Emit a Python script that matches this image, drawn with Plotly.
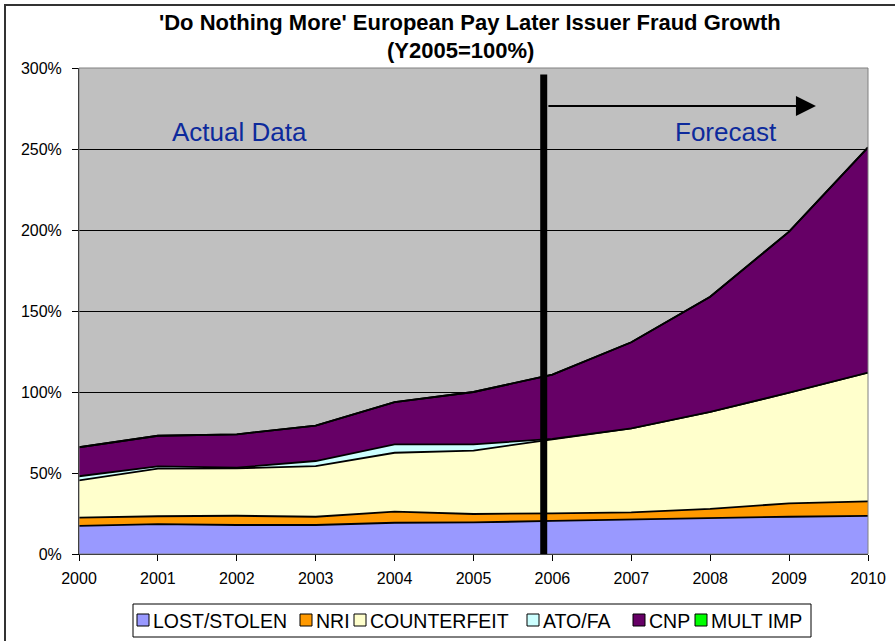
import plotly.graph_objects as go

years = [2000, 2001, 2002, 2003, 2004, 2005, 2006, 2007, 2008, 2009, 2010]
series_names = ["LOST/STOLEN", "NRI", "COUNTERFEIT", "ATO/FA", "CNP", "MULT IMP"]
lost_stolen = [0.173, 0.185, 0.179, 0.179, 0.193, 0.195, 0.204, 0.214, 0.222, 0.230, 0.235]
nri = [0.051, 0.048, 0.057, 0.051, 0.068, 0.052, 0.047, 0.043, 0.056, 0.083, 0.090]
counterfeit = [0.231, 0.294, 0.293, 0.313, 0.364, 0.391, 0.457, 0.519, 0.600, 0.683, 0.795]
ato_fa = [0.025, 0.014, 0.004, 0.031, 0.052, 0.039, 0.003, 0.0, 0.0, 0.0, 0.0]
cnp = [0.179, 0.189, 0.206, 0.218, 0.261, 0.323, 0.396, 0.531, 0.710, 0.994, 1.390]
mult_imp = [0.0] * 11
series_values = [lost_stolen, nri, counterfeit, ato_fa, cnp, mult_imp]
series_colors = ["#9999FF", "#FF9900", "#FFFFCC", "#CCFFFF", "#660066", "#00FF00"]

divider_year = 2005.89
arrow_start, arrow_end, arrow_level = 2005.93, 2009.34, 2.765
divider_top = 2.96
label_actual = ("Actual Data", 2002.04, 2.605)
label_forecast = ("Forecast", 2008.2, 2.605)

# legend layout (pixel positions of each swatch's left edge)
legend_swatch_px = [137, 300, 354, 527, 633, 695]
legend_box_px = (133, 811, 604, 637)

FONT = "Arial, Liberation Sans, sans-serif"

fig = go.Figure()
for name, vals, col in zip(series_names, series_values, series_colors):
    fig.add_trace(go.Scatter(
        x=years, y=vals, name=name, stackgroup="one", mode="lines",
        line=dict(color="black", width=1.8), fillcolor=col, showlegend=False,
    ))

L, T, W, H = 79, 68, 789, 486

def px_x(p):
    return (p - L) / W

def px_y(p):
    return (T + H - p) / H

shapes = [
    dict(type="rect", xref="paper", yref="paper", x0=0, x1=1, y0=0, y1=1,
         line=dict(color="#808080", width=1), layer="above"),
    dict(type="line", xref="x", yref="y", x0=divider_year, x1=divider_year,
         y0=0, y1=divider_top, line=dict(color="black", width=7), layer="above"),
    dict(type="rect", xref="paper", yref="paper", x0=px_x(5), x1=px_x(1000),
         y0=px_y(800), y1=px_y(5), line=dict(color="#333333", width=2), layer="below"),
    dict(type="rect", xref="paper", yref="paper",
         x0=px_x(legend_box_px[0]), x1=px_x(legend_box_px[1]),
         y0=px_y(legend_box_px[3]), y1=px_y(legend_box_px[2]),
         line=dict(color="black", width=1), fillcolor="white", layer="above"),
]
annotations = [
    dict(text="<b>'Do Nothing More' European Pay Later Issuer Fraud Growth</b>",
         xref="paper", yref="paper", x=px_x(470), y=px_y(22), showarrow=False,
         font=dict(size=22, family=FONT), xanchor="center", yanchor="middle"),
    dict(text="<b>(Y2005=100%)</b>",
         xref="paper", yref="paper", x=px_x(460), y=px_y(50), showarrow=False,
         font=dict(size=22, family=FONT), xanchor="center", yanchor="middle"),
    dict(text=label_actual[0], x=label_actual[1], y=label_actual[2], xref="x", yref="y",
         showarrow=False, font=dict(size=26, color="#0D2A9C", family=FONT)),
    dict(text=label_forecast[0], x=label_forecast[1], y=label_forecast[2], xref="x", yref="y",
         showarrow=False, font=dict(size=26, color="#0D2A9C", family=FONT)),
    dict(text="", x=arrow_end, y=arrow_level, ax=arrow_start, ay=arrow_level,
         xref="x", yref="y", axref="x", ayref="y", showarrow=True,
         arrowhead=2, arrowsize=2, arrowwidth=2, arrowcolor="black", standoff=0),
]
for name, col, sx in zip(series_names, series_colors, legend_swatch_px):
    shapes.append(dict(type="rect", xref="paper", yref="paper",
                       x0=px_x(sx), x1=px_x(sx + 12), y0=px_y(626), y1=px_y(614),
                       line=dict(color="black", width=1), fillcolor=col, layer="above"))
    annotations.append(dict(text=name, xref="paper", yref="paper", x=px_x(sx + 14),
                            y=px_y(620.5), xanchor="left", yanchor="middle", showarrow=False,
                            font=dict(size=19.5, family=FONT, color="black")))

fig.update_layout(
    width=895, height=641,
    margin=dict(l=L, r=895 - L - W, t=T, b=641 - T - H, autoexpand=False),
    paper_bgcolor="white", plot_bgcolor="#C0C0C0",
    font=dict(family=FONT, size=15, color="black"),
    showlegend=False,
    xaxis=dict(
        range=[2000, 2010], tickvals=years, ticktext=[str(y) for y in years],
        ticks="outside", ticklen=6, tickcolor="black", showgrid=False,
        showline=True, linecolor="black", linewidth=1, zeroline=False,
        tickfont=dict(size=16), ticklabelstandoff=4,
    ),
    yaxis=dict(
        range=[0, 3], dtick=0.5, tickformat=".0%", ticks="outside", ticklen=6,
        tickcolor="black", showgrid=True, gridcolor="black", gridwidth=1,
        showline=True, linecolor="black", linewidth=1, zeroline=False,
        tickfont=dict(size=16), ticklabelstandoff=7,
    ),
    shapes=shapes,
    annotations=annotations,
)

fig.write_html("out.html", post_script="document.body.style.margin='0';",
               config={"displayModeBar": False})
